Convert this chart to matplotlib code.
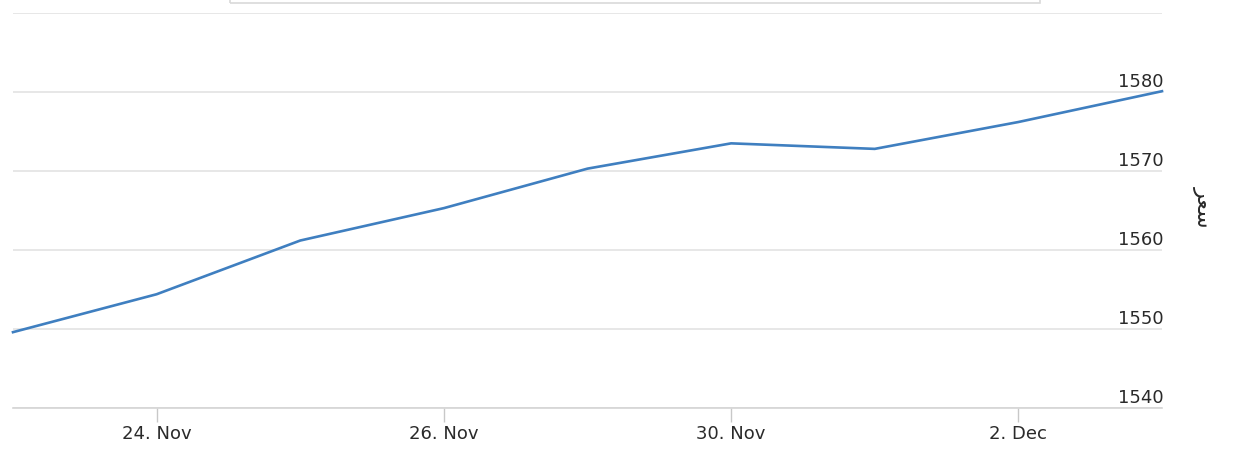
import matplotlib
matplotlib.use("Agg")
import matplotlib.pyplot as plt
from matplotlib.patches import Rectangle
import matplotlib.transforms as mtransforms

# trading days (weekend 28/29 Nov skipped), ordinal axis
days = ["23. Nov", "24. Nov", "25. Nov", "26. Nov", "27. Nov",
        "30. Nov", "1. Dec", "2. Dec", "3. Dec"]
prices = [1549.6, 1554.4, 1561.2, 1565.3, 1570.3, 1573.5, 1572.8, 1576.2, 1580.1]
tick_idx = [1, 3, 5, 7]
y_ticks = [1540, 1550, 1560, 1570, 1580, 1590]
y_title = "ﺮﻌﺳ"  # "سعر" in presentation forms, visual order

plt.rcParams['font.family'] = ['DejaVu Sans']

W, H = 1236, 449
fig = plt.figure(figsize=(W / 100, H / 100), dpi=100)
fig.patch.set_facecolor("white")
ax = fig.add_axes([13 / W, 41 / H, 1149 / W, 395 / H])

x = list(range(len(prices)))
ax.plot(x, prices, color="#3f7fc0", lw=1.9, solid_joinstyle="round", zorder=3, clip_on=False)

ax.set_xlim(0, len(prices) - 1)
ax.set_ylim(y_ticks[0], y_ticks[-1])

# grid
ax.set_yticks(y_ticks)
ax.yaxis.grid(True, color="#e3e3e3", lw=1.2)
ax.tick_params(axis="y", length=0, labelleft=False, labelright=False)
for s in ["left", "right", "top"]:
    ax.spines[s].set_visible(False)
ax.spines["bottom"].set_color("#d4d4d4")
ax.spines["bottom"].set_linewidth(1.2)

# x ticks
ax.set_xticks(tick_idx)
ax.set_xticklabels([days[i] for i in tick_idx], fontsize=13, color="#2a2a2a")
ax.tick_params(axis="x", length=10, width=1, color="#c8c8c8", pad=2)

# y labels inside the plot, right aligned above grid line (last one hidden)
trans = mtransforms.blended_transform_factory(ax.transAxes, ax.transData)
for v in y_ticks[:-1]:
    ax.annotate(str(v), xy=(1.0, v), xycoords=trans, xytext=(1, 1),
                textcoords="offset points", ha="right", va="bottom",
                fontsize=13, color="#2a2a2a")

fig.text(1203 / W, 1 - 207 / H, y_title, rotation=270, ha="center", va="center",
         fontsize=16, color="#2a2a2a")

# clipped box at the very top
fig.patches.append(Rectangle((230 / W, 1 - 3 / H), 810 / W, 20 / H,
                             transform=fig.transFigure, fill=False,
                             edgecolor="#d9d9d9", lw=1.2))

fig.savefig("out.png", dpi=100)
